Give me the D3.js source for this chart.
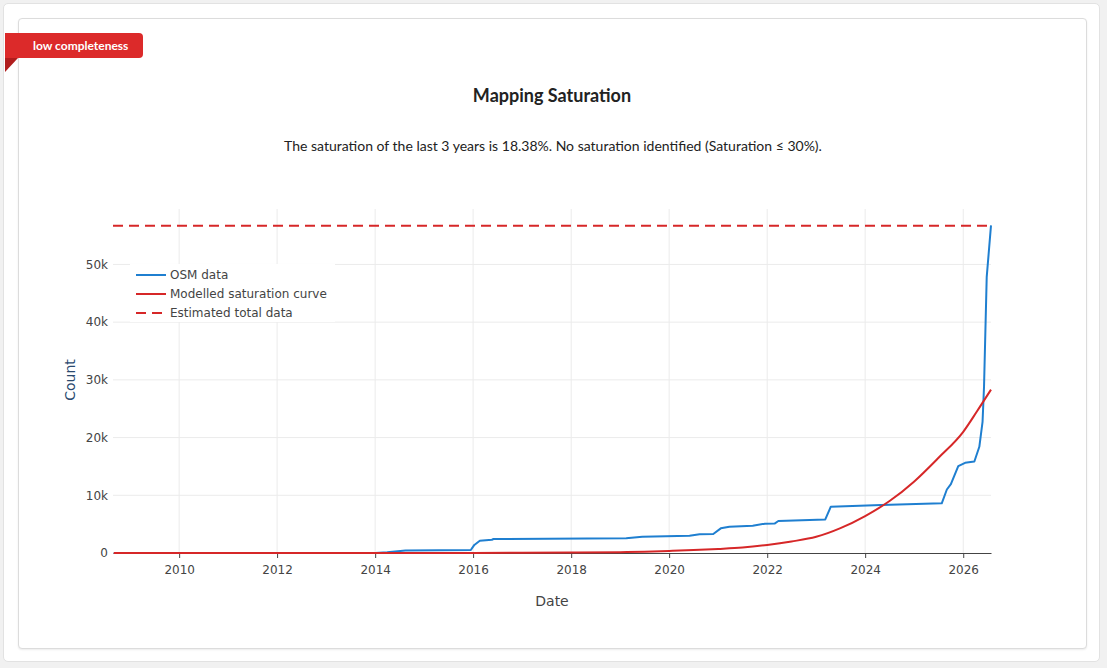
<!DOCTYPE html>
<html>
<head>
<meta charset="utf-8">
<script src="https://cdn.jsdelivr.net/npm/d3@7"></script>
<style>
  html, body { margin: 0; padding: 0; background: #f1f1f1; }
  body { width: 1107px; height: 668px; position: relative; overflow: hidden; font-family: Lato, "Open Sans", sans-serif; }
  .outer { position: absolute; left: 3px; top: 3px; width: 1097px; height: 659px; background: #fff;
           border: 1px solid #e2e2e2; border-radius: 5px; box-sizing: border-box; }
  .card { position: absolute; left: 18px; top: 18px; width: 1069px; height: 631px; background: #fff;
          border: 1px solid #dcdcdc; border-radius: 4px; box-sizing: border-box; box-shadow: 0 1px 2px rgba(0,0,0,.08); }
  .badge { position: absolute; left: 5px; top: 33px; width: 138px; height: 25px; background: #dc2a2a;
           border-radius: 0 4px 4px 0; color: #fff; font: bold 12px Lato, sans-serif; line-height: 25px;
           box-sizing: border-box; padding-left: 28px; }
  .fold { position: absolute; left: 5px; top: 58px; width: 0; height: 0;
          border-top: 14px solid #b01d1d; border-left: 13px solid transparent; transform: scaleX(-1); }
  #chart { position: absolute; left: 0; top: 0; }
</style>
</head>
<body>
<div class="outer"></div>
<div class="card"></div>
<svg id="chart" width="1107" height="668"></svg>
<div class="badge">low completeness</div>
<div class="fold"></div>
<script>
// ── Data ─────────────────────────────────────────────────────────────────────
const osmDates = ['2008-09-01','2014-01-01','2014-04-01','2014-08-15','2015-12-15','2016-01-10','2016-02-20',
  '2016-05-20','2016-06-01','2019-02-15','2019-06-15','2020-06-01','2020-08-15','2020-11-25','2021-01-20',
  '2021-03-25','2021-09-15','2021-12-15','2022-02-25','2022-03-25','2023-03-10','2023-04-20','2024-05-01',
  '2025-07-25','2025-09-01','2025-10-01','2025-11-25','2026-01-15','2026-03-25','2026-05-01','2026-05-25',
  '2026-06-05','2026-06-25','2026-07-27'];
const osmValues = [0, 0, 120, 420, 520, 1400, 2130, 2300, 2420, 2540, 2830, 3000, 3230, 3300, 4270,
  4560, 4730, 5080, 5100, 5540, 5820, 8020, 8300, 8600, 11000, 11940, 15050, 15630, 15860, 18400, 22700,
  28800, 47800, 56750];

const curveDates = ['2008-09-01','2014-01-01','2016-01-01','2017-01-01','2018-01-01','2019-01-01','2019-07-01',
  '2020-01-01','2020-07-01','2021-01-01','2021-07-01','2022-01-01','2022-07-01','2023-01-01','2023-07-01',
  '2024-01-01','2024-07-01','2025-01-01','2025-07-01','2026-01-01','2026-04-15','2026-07-27'];
const curveValues = [0, 5, 20, 40, 70, 150, 230, 350, 500, 700, 950, 1400, 2000, 2800, 4300,
  6400, 9000, 12400, 16500, 21000, 24600, 28300];

const estimatedTotal = 56700;
const xDomain = ['2008-08-26', '2026-07-27'];
const yTicks = [0, 10000, 20000, 30000, 40000, 50000];
const seriesNames = ['OSM data', 'Modelled saturation curve', 'Estimated total data'];

const title = 'Mapping Saturation';
const subtitle = 'The saturation of the last 3 years is 18.38%. No saturation identified (Saturation \u2264 30%).';

// ── Layout ───────────────────────────────────────────────────────────────────
const M = { left: 113, right: 991, top: 209, bottom: 553 };
const BLUE = '#1f7fd0', RED = '#d62728', AXIS = '#444';
const parse = d3.timeParse('%Y-%m-%d');

const svg = d3.select('#chart');

svg.append('text').attr('x', 552).attr('y', 102).attr('text-anchor', 'middle')
  .attr('font-family', 'Lato, sans-serif').attr('font-weight', 'bold').attr('font-size', 18)
  .attr('fill', '#222').text(title);
svg.append('text').attr('x', 553).attr('y', 151).attr('text-anchor', 'middle')
  .attr('font-family', 'Lato, sans-serif').attr('font-size', 14)
  .attr('fill', '#222').text(subtitle);

const x = d3.scaleTime().domain(xDomain.map(parse)).range([M.left, M.right]);
const y = d3.scaleLinear().domain([0, 59600]).range([M.bottom, M.top]);

const tickFont = '"DejaVu Sans", verdana, sans-serif';

// Gridlines
const grid = svg.append('g');
const xTicks = d3.range(2010, 2027, 2).map(yr => new Date(yr, 0, 1));
grid.selectAll('line.vx').data(xTicks).join('line')
  .attr('x1', d => x(d)).attr('x2', d => x(d)).attr('y1', M.top).attr('y2', M.bottom)
  .attr('stroke', '#ebebeb').attr('stroke-width', 1);
grid.selectAll('line.hy').data(yTicks.slice(1)).join('line')
  .attr('x1', M.left).attr('x2', M.right).attr('y1', d => y(d)).attr('y2', d => y(d))
  .attr('stroke', '#ebebeb').attr('stroke-width', 1);

// Axes
const xAxis = svg.append('g').attr('transform', `translate(0,${M.bottom})`)
  .call(d3.axisBottom(x).tickValues(xTicks).tickFormat(d3.timeFormat('%Y')).tickSize(5).tickSizeOuter(0));
xAxis.select('.domain').attr('stroke', AXIS);
xAxis.selectAll('line').attr('stroke', AXIS);
xAxis.selectAll('text').attr('font-family', tickFont).attr('font-size', 12).attr('fill', AXIS).attr('dy', '1.05em');

const yAxis = svg.append('g').attr('transform', `translate(${M.left},0)`)
  .call(d3.axisLeft(y).tickValues(yTicks).tickFormat(d => d === 0 ? '0' : d / 1000 + 'k').tickSize(0));
yAxis.select('.domain').remove();
yAxis.selectAll('text').attr('font-family', tickFont).attr('font-size', 12).attr('fill', AXIS).attr('dx', '-2');

svg.append('text').attr('x', 552).attr('y', 606).attr('text-anchor', 'middle')
  .attr('font-family', tickFont).attr('font-size', 14).attr('fill', AXIS).text('Date');
svg.append('text').attr('transform', 'translate(75,380) rotate(-90)').attr('text-anchor', 'middle')
  .attr('font-family', tickFont).attr('font-size', 14).attr('fill', '#2a4a6f').text('Count');

// Lines
const plot = svg.append('g');
const line = d3.line().x(d => x(d.date)).y(d => y(d.value));
const osm = osmDates.map((d, i) => ({ date: parse(d), value: osmValues[i] }));
const curve = d3.line().curve(d3.curveMonotoneX).x(d => x(d.date)).y(d => y(d.value));
const model = curveDates.map((d, i) => ({ date: parse(d), value: curveValues[i] }));

plot.append('path').datum(osm).attr('d', line)
  .attr('fill', 'none').attr('stroke', BLUE).attr('stroke-width', 2).attr('stroke-linejoin', 'round');
plot.append('path').datum(model).attr('d', curve)
  .attr('fill', 'none').attr('stroke', RED).attr('stroke-width', 2);
plot.append('line')
  .attr('x1', M.left).attr('x2', M.right).attr('y1', y(estimatedTotal)).attr('y2', y(estimatedTotal))
  .attr('stroke', RED).attr('stroke-width', 2).attr('stroke-dasharray', '10,6');

// Legend
const lg = svg.append('g').attr('transform', 'translate(130,264)');
lg.append('rect').attr('width', 205).attr('height', 58).attr('fill', '#fff');
const styles = [{ c: BLUE, dash: null }, { c: RED, dash: null }, { c: RED, dash: '10,6' }];
seriesNames.forEach((name, i) => {
  const row = lg.append('g').attr('transform', `translate(0,${11 + i * 19})`);
  row.append('line').attr('x1', 6).attr('x2', 36).attr('stroke', styles[i].c).attr('stroke-width', 2)
    .attr('stroke-dasharray', styles[i].dash);
  row.append('text').attr('x', 40).attr('dy', '0.35em').attr('font-family', tickFont)
    .attr('font-size', 12).attr('fill', AXIS).text(name);
});
</script>
</body>
</html>
